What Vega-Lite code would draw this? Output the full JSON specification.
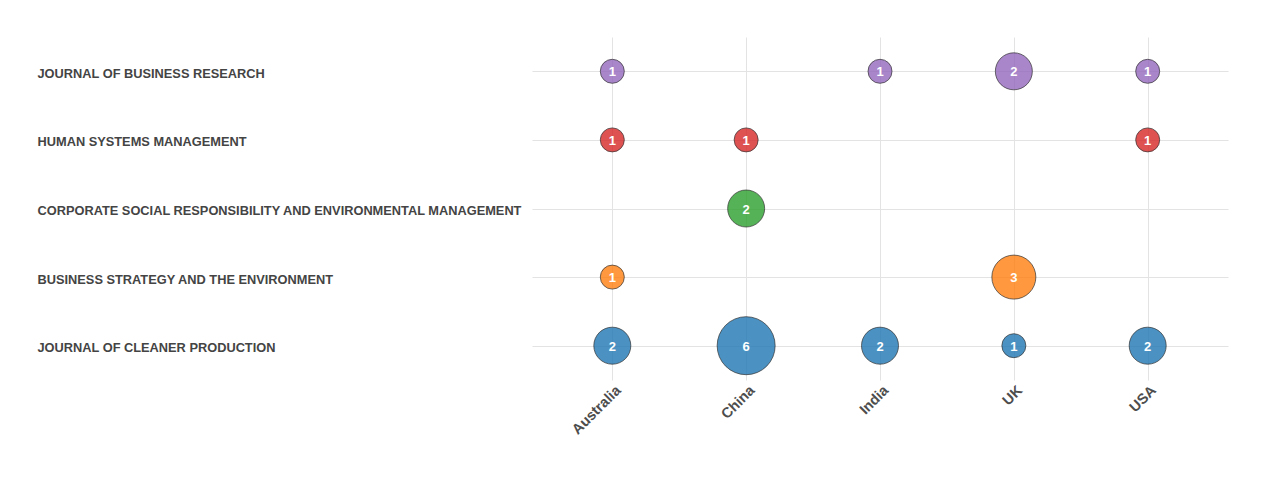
{
  "$schema": "https://vega.github.io/schema/vega-lite/v6.json",
  "autosize": "none",
  "width": 696,
  "height": 343,
  "padding": {"left": 532, "top": 37, "right": 38, "bottom": 99},
  "background": "white",
  "config": {"view": {"stroke": null}, "font": "Liberation Sans"},
  "data": {"values": [
    {"journal": "JOURNAL OF BUSINESS RESEARCH", "country": "Australia", "count": 1},
    {"journal": "JOURNAL OF BUSINESS RESEARCH", "country": "India", "count": 1},
    {"journal": "JOURNAL OF BUSINESS RESEARCH", "country": "UK", "count": 2},
    {"journal": "JOURNAL OF BUSINESS RESEARCH", "country": "USA", "count": 1},
    {"journal": "HUMAN SYSTEMS MANAGEMENT", "country": "Australia", "count": 1},
    {"journal": "HUMAN SYSTEMS MANAGEMENT", "country": "China", "count": 1},
    {"journal": "HUMAN SYSTEMS MANAGEMENT", "country": "USA", "count": 1},
    {"journal": "CORPORATE SOCIAL RESPONSIBILITY AND ENVIRONMENTAL MANAGEMENT", "country": "China", "count": 2},
    {"journal": "BUSINESS STRATEGY AND THE ENVIRONMENT", "country": "Australia", "count": 1},
    {"journal": "BUSINESS STRATEGY AND THE ENVIRONMENT", "country": "UK", "count": 3},
    {"journal": "JOURNAL OF CLEANER PRODUCTION", "country": "Australia", "count": 2},
    {"journal": "JOURNAL OF CLEANER PRODUCTION", "country": "China", "count": 6},
    {"journal": "JOURNAL OF CLEANER PRODUCTION", "country": "India", "count": 2},
    {"journal": "JOURNAL OF CLEANER PRODUCTION", "country": "UK", "count": 1},
    {"journal": "JOURNAL OF CLEANER PRODUCTION", "country": "USA", "count": 2}
  ]},
  "encoding": {
    "x": {
      "field": "country", "type": "nominal",
      "sort": ["Australia", "China", "India", "UK", "USA"],
      "scale": {"type": "point", "padding": 0.6},
      "axis": {
        "title": null, "domain": false, "ticks": false,
        "grid": true, "gridColor": "#e3e3e3", "gridWidth": 1,
        "labelAngle": -45, "labelAlign": "right", "labelBaseline": "middle",
        "labelFontSize": 14.5, "labelFontWeight": "bold", "labelColor": "#4d4d4d",
        "labelPadding": 8, "labelOffset": 6
      }
    },
    "y": {
      "field": "journal", "type": "nominal",
      "sort": ["JOURNAL OF BUSINESS RESEARCH", "HUMAN SYSTEMS MANAGEMENT", "CORPORATE SOCIAL RESPONSIBILITY AND ENVIRONMENTAL MANAGEMENT", "BUSINESS STRATEGY AND THE ENVIRONMENT", "JOURNAL OF CLEANER PRODUCTION"],
      "scale": {"type": "point", "padding": 0.5},
      "axis": {
        "title": null, "domain": false, "ticks": false,
        "grid": true, "gridColor": "#e3e3e3", "gridWidth": 1,
        "labelAlign": "left", "labelPadding": 495, "labelLimit": 0, "labelOffset": 2,
        "labelFontSize": 12.8, "labelFontWeight": "bold", "labelColor": "#444444"
      }
    }
  },
  "layer": [
    {
      "mark": {"type": "circle", "opacity": 0.8, "stroke": "black", "strokeWidth": 0.7, "strokeOpacity": 1},
      "encoding": {
        "size": {"field": "count", "type": "quantitative", "legend": null,
          "scale": {"type": "linear", "domain": [1, 2, 3, 6], "range": [576, 1369, 1936, 3364]}},
        "color": {"field": "journal", "type": "nominal", "legend": null,
          "scale": {"domain": ["JOURNAL OF CLEANER PRODUCTION", "BUSINESS STRATEGY AND THE ENVIRONMENT", "CORPORATE SOCIAL RESPONSIBILITY AND ENVIRONMENTAL MANAGEMENT", "HUMAN SYSTEMS MANAGEMENT", "JOURNAL OF BUSINESS RESEARCH"],
            "range": ["#1f77b4", "#ff7f0e", "#2ca02c", "#d62728", "#9467bd"]}}
      }
    },
    {
      "mark": {"type": "text", "color": "white", "fontWeight": "bold", "fontSize": 13, "baseline": "middle", "align": "center", "dy": 1},
      "encoding": {"text": {"field": "count", "type": "quantitative"}}
    }
  ]
}
